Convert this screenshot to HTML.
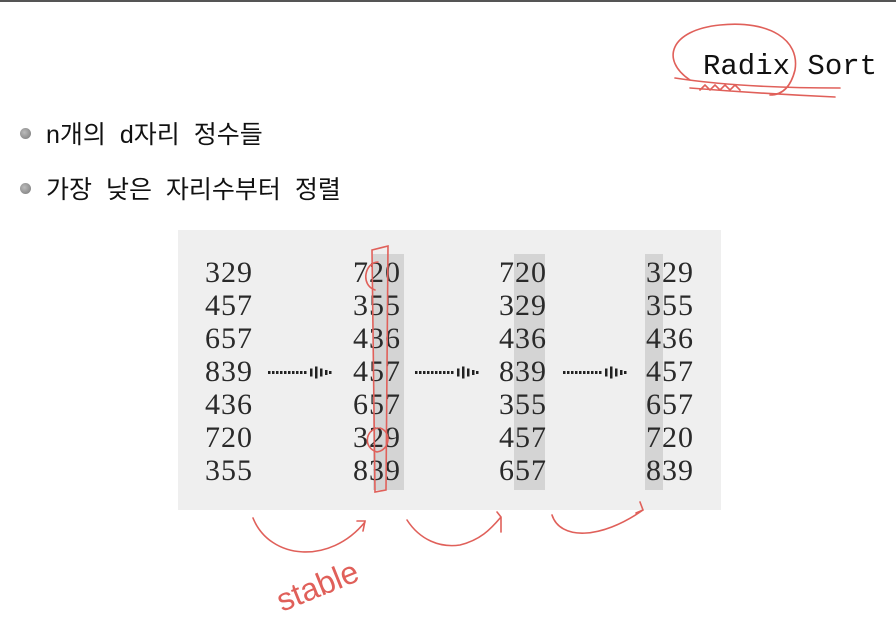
<!DOCTYPE html>
<html><head><meta charset="utf-8">
<style>
body{margin:0;width:896px;height:634px;background:#fff;position:relative;overflow:hidden;font-family:"Liberation Sans","Noto Sans CJK KR",sans-serif}
.abs{position:absolute}
.num{position:absolute;font-family:"Liberation Serif",serif;font-size:30px;color:#2a2a2a;line-height:33px;letter-spacing:1px}
.bullet{position:absolute;width:11px;height:11px;border-radius:50%;background:radial-gradient(circle at 40% 40%,#bbb,#777)}
.txt{position:absolute;font-size:25px;color:#111;white-space:nowrap;word-spacing:7px}
</style></head><body>
<div class="abs" style="left:0;top:0;width:896px;height:2px;background:#555"></div>
<div class="abs" style="left:703px;top:50px;font-family:'Liberation Mono',monospace;font-size:29px;color:#111">Radix Sort</div>
<div class="bullet" style="left:20px;top:128px"></div>
<div class="txt" style="left:46px;top:115px">n개의 d자리 정수들</div>
<div class="bullet" style="left:20px;top:183px"></div>
<div class="txt" style="left:46px;top:170px">가장 낮은 자리수부터 정렬</div>
<div class="abs" style="left:178px;top:230px;width:543px;height:280px;background:#efefef"></div>
<div class="abs" style="left:373px;top:254px;width:31px;height:236px;background:#d4d4d4"></div>
<div class="abs" style="left:514px;top:254px;width:31px;height:236px;background:#d4d4d4"></div>
<div class="abs" style="left:645px;top:254px;width:18px;height:236px;background:#d4d4d4"></div>
<div id="cols"></div>
<svg class="abs" style="left:0;top:0" width="896" height="634">
<g fill="#222">
<g id="arr"></g>
</g>
<g fill="none" stroke="#e0605a" stroke-width="1.6" stroke-linecap="round">
<path d="M690 80 C660 60 670 30 720 25 C770 20 800 40 795 70 C790 90 780 95 770 95"/>
<path d="M675 78 C720 85 780 88 840 88 M690 88 C740 92 790 95 835 97 M700 90 l5 -5 l5 5 l5 -5 l5 5 l5 -5 l5 5 l5 -5 l5 5"/>
<path d="M372 250 L388 246 L386 490 L375 492 Z"/>
<path d="M378 262 C365 262 360 285 375 290 M378 428 C365 430 363 448 377 452 C390 450 392 432 380 428"/>
<path d="M253 518 C270 560 330 565 365 522 M357 521 l8 0 l-2 10"/>
<path d="M407 520 C420 540 440 548 460 545 C480 540 490 530 501 517 M497 512 l4 5 l0 15"/>
<path d="M552 515 C560 540 600 540 643 510 M640 502 l3 8 l-7 3"/>
</g>
<text x="282" y="612" font-family="Liberation Sans,sans-serif" font-size="32" fill="#e0605a" transform="rotate(-22 282 612)">stable</text>
</svg>
<script>
const col1=["329","457","657","839","436","720","355"];
const col2=["720","355","436","457","657","329","839"];
const col3=["720","329","436","839","355","457","657"];
const col4=["329","355","436","457","657","720","839"];
const cols=[col1,col2,col3,col4];
const xs=[205,353,499,646];
const host=document.getElementById('cols');
cols.forEach((c,i)=>{
  const d=document.createElement('div');
  d.className='num';
  d.style.left=xs[i]+'px';d.style.top='256px';
  
  
  d.innerHTML=c.join('<br>');
  host.appendChild(d);
});
const ax=[268,415,563];
const g=document.getElementById('arr');
const ns='http://www.w3.org/2000/svg';
ax.forEach((x,i)=>{
  const grp=document.createElementNS(ns,'g');
  
  
  let s='';
  for(let k=0;k<10;k++) s+=`<rect x="${x+k*4}" y="371" width="2.5" height="3"/>`;
  [[42,8],[47,12],[52,8],[57,5],[61,3]].forEach(([o,h])=>s+=`<rect x="${x+o}" y="${372.5-h/2}" width="2.5" height="${h}"/>`);
  grp.innerHTML=s;
  g.appendChild(grp);
});
</script>
</body></html>
